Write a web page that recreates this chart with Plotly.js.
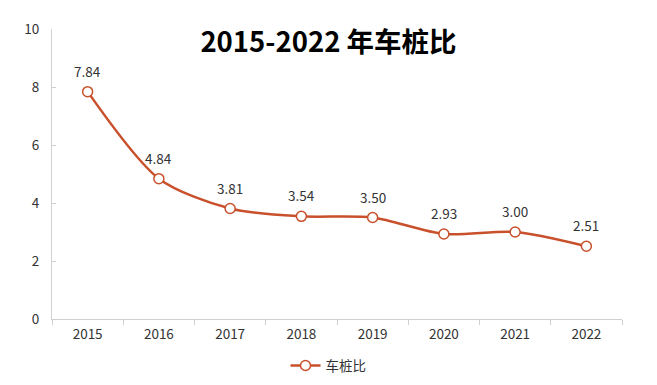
<!DOCTYPE html>
<html>
<head>
<meta charset="utf-8">
<script src="https://cdn.plot.ly/plotly-3.0.1.min.js"></script>
<style>html,body{margin:0;padding:0;background:#fff;}#chart{width:657px;height:385px;}</style>
</head>
<body>
<div id="chart"></div>
<script>
const years = ['2015','2016','2017','2018','2019','2020','2021','2022'];
const ratio = [7.84, 4.84, 3.81, 3.54, 3.50, 2.93, 3.00, 2.51];
const seriesName = '车桩比';
const titleText = '2015-2022 年车桩比';
const yTicks = [0, 2, 4, 6, 8, 10];

const lineColor = '#C8502B';
const font = '"Noto Sans CJK SC", "Noto Sans", sans-serif';

// category index i corresponds to years[i]
const labels = years.map((yr, i) => ({
  x: i, y: ratio[i], xref: 'x', yref: 'y',
  text: ratio[i].toFixed(2), showarrow: false,
  yanchor: 'bottom', yshift: 9,
  font: {family: font, size: 13.5, color: '#333333'}
}));

Plotly.newPlot('chart', [{
  x: years,
  y: ratio,
  type: 'scatter',
  mode: 'lines+markers',
  name: seriesName,
  line: {color: lineColor, width: 2.5, shape: 'spline', smoothing: 0.8},
  marker: {symbol: 'circle', size: 10, color: '#ffffff', line: {color: lineColor, width: 1.5}},
  cliponaxis: false
}], {
  width: 657, height: 385,
  margin: {l: 52, r: 35, t: 29, b: 66, autoexpand: false},
  paper_bgcolor: '#fff', plot_bgcolor: '#fff',
  title: {text: '<b>' + titleText + '</b>', x: 0.5, xanchor: 'center', y: 0.89, yanchor: 'middle',
          font: {family: font, size: 27.5, color: '#000'}},
  annotations: labels,
  xaxis: {type: 'category', range: [-0.5, 7.5], showgrid: false, zeroline: false,
          showline: true, linecolor: '#d0d0d0', linewidth: 1, automargin: false,
          ticks: 'outside', tickson: 'boundaries', ticklen: 5, tickcolor: '#d0d0d0',
          ticklabelstandoff: 3,
          tickfont: {family: font, size: 13.5, color: '#333'}},
  yaxis: {range: [0, 10], tickvals: yTicks, showgrid: false, zeroline: false,
          showline: true, linecolor: '#d0d0d0', linewidth: 1, automargin: false,
          ticks: 'inside', ticklen: 4, tickcolor: '#d0d0d0',
          ticklabelstandoff: 9,
          tickfont: {family: font, size: 13.5, color: '#333'}},
  showlegend: true,
  legend: {orientation: 'h', x: 0.5, xanchor: 'center', xref: 'container', y: 0.05, yanchor: 'middle', yref: 'container',
           font: {family: font, size: 13.5, color: '#333'}}
}, {displayModeBar: false});
</script>
</body>
</html>
